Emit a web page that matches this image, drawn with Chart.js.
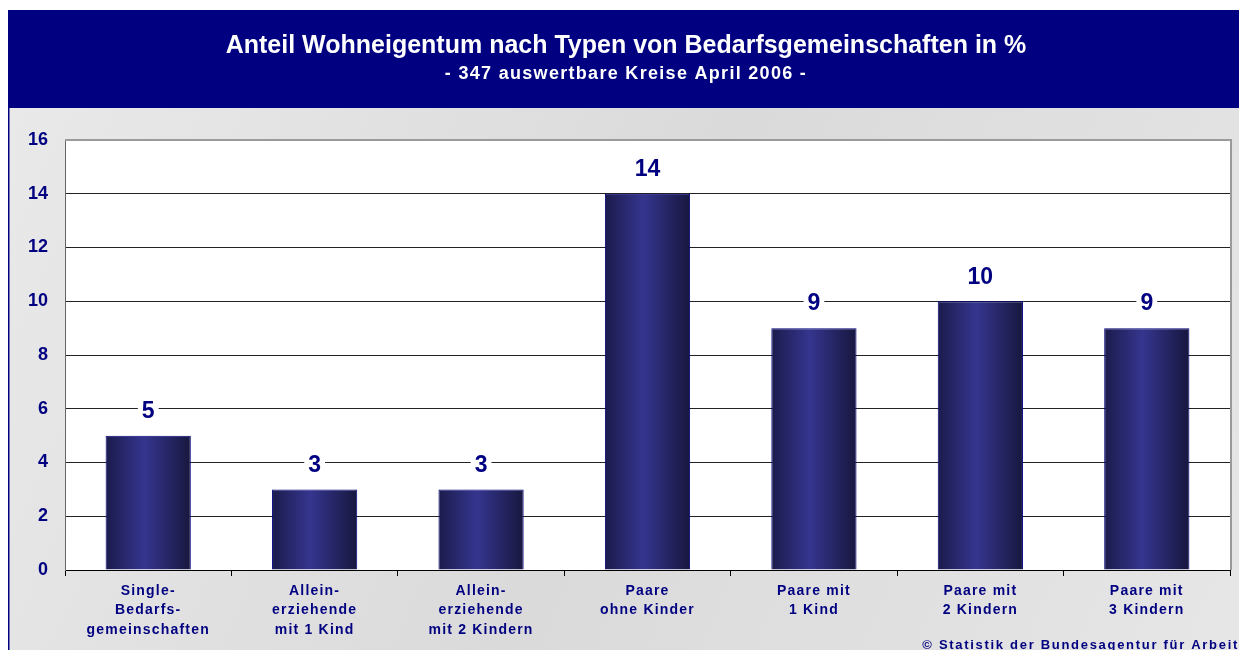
<!DOCTYPE html>
<html lang="de">
<head>
<meta charset="utf-8">
<title>Anteil Wohneigentum nach Typen von Bedarfsgemeinschaften</title>
<script src="https://cdn.jsdelivr.net/npm/chart.js@4/dist/chart.umd.min.js"></script>
<style>
  html, body { margin: 0; padding: 0; background: #fff; }
  #wrap { width: 1239px; height: 650px; position: relative; }
</style>
</head>
<body>
<div id="wrap"><canvas id="wohnChart"></canvas></div>
<script>
// Daten
const categories = [
  ["Single-", "Bedarfs-", "gemeinschaften"],
  ["Allein-", "erziehende", "mit 1 Kind"],
  ["Allein-", "erziehende", "mit 2 Kindern"],
  ["Paare", "ohne Kinder"],
  ["Paare mit", "1 Kind"],
  ["Paare mit", "2 Kindern"],
  ["Paare mit", "3 Kindern"],
];
const anteilWerte = [5, 3, 3, 14, 9, 10, 9];
const yTicks = [0, 2, 4, 6, 8, 10, 12, 14, 16];

const titleText = "Anteil Wohneigentum nach Typen von Bedarfsgemeinschaften in %";
const subtitleText = "- 347 auswertbare Kreise April 2006 -";
const sourceText = "\u00a9 Statistik der Bundesagentur f\u00fcr Arbeit";

const NAVY = "#000080";
const FONT = "'Liberation Sans', Arial, Helvetica, sans-serif";
const BAR_PCT = 0.64;
const CAT_PCT = 0.8;

// ✅ Balken-Verlauf (dunkle Kanten, hellere Mitte)
function barGradient(context) {
  const chart = context.chart;
  const xScale = chart.scales.x;
  if (!xScale || !chart.chartArea) return "#2a2a80";
  const cx = xScale.getPixelForValue(context.dataIndex);
  const half = (xScale.width / categories.length) * BAR_PCT * CAT_PCT / 2;
  const g = chart.ctx.createLinearGradient(cx - half, 0, cx + half, 0);
  g.addColorStop(0, "#1b1b4c");
  g.addColorStop(0.45, "#35358f");
  g.addColorStop(1, "#17173f");
  return g;
}

// ✅ Hintergrund, Titelbalken, Rahmen
const framePlugin = {
  id: "frame",
  beforeDraw(chart) {
    const { ctx, width, height, chartArea } = chart;
    ctx.save();
    ctx.fillStyle = "#fff";
    ctx.fillRect(0, 0, width, height);

    const bg = ctx.createLinearGradient(8, 108, width, height);
    bg.addColorStop(0, "#e9e9e9");
    bg.addColorStop(0.5, "#dadada");
    bg.addColorStop(1, "#e6e6e6");
    ctx.fillStyle = bg;
    ctx.fillRect(8, 108, width - 8, height - 108);

    ctx.fillStyle = NAVY;
    ctx.fillRect(8, 10, width - 8, 98);
    ctx.fillRect(8, 108, 1.5, height - 108);

    ctx.fillStyle = "#fff";
    ctx.fillRect(chartArea.left, chartArea.top, chartArea.right - chartArea.left, chartArea.bottom - chartArea.top);

    ctx.textAlign = "center";
    ctx.textBaseline = "middle";
    ctx.font = "bold 25px " + FONT;
    ctx.fillText(titleText, 626, 46);
    ctx.font = "bold 18px " + FONT;
    ctx.letterSpacing = "1.3px";
    ctx.fillText(subtitleText, 626, 74);
    ctx.restore();
  },
  afterDraw(chart) {
    const { ctx, chartArea } = chart;
    ctx.save();
    ctx.strokeStyle = "#9a9a9a";
    ctx.lineWidth = 2;
    ctx.beginPath();
    ctx.moveTo(chartArea.left, chartArea.top);
    ctx.lineTo(chartArea.right + 1, chartArea.top);
    ctx.lineTo(chartArea.right + 1, chartArea.bottom);
    ctx.stroke();

    ctx.fillStyle = NAVY;
    ctx.font = "bold 13px " + FONT;
    ctx.letterSpacing = "1.7px";
    ctx.textAlign = "right";
    ctx.textBaseline = "alphabetic";
    ctx.fillText(sourceText, 1239, 649);
    ctx.restore();
  },
};

// ✅ Werte über den Balken
const valueLabelPlugin = {
  id: "valueLabels",
  afterDatasetsDraw(chart) {
    const { ctx } = chart;
    const meta = chart.getDatasetMeta(0);
    ctx.save();
    ctx.font = "bold 23px " + FONT;
    ctx.textAlign = "center";
    ctx.textBaseline = "middle";
    meta.data.forEach((bar, i) => {
      const txt = String(anteilWerte[i]);
      const y = bar.y - 25;
      const w = ctx.measureText(txt).width + 8;
      ctx.fillStyle = "#fff";
      ctx.fillRect(bar.x - w / 2, y - 12, w, 24);
      ctx.fillStyle = NAVY;
      ctx.fillText(txt, bar.x, y + 1);
    });
    ctx.restore();
  },
};

// ✅ Sperrschrift für die Kategorien
const spacedLabelsPlugin = {
  id: "spacedLabels",
  afterLayout(chart) {
    const xs = chart.scales.x;
    if (xs._spaced) return;
    const orig = xs.drawLabels;
    xs.drawLabels = function (area) {
      this.ctx.save();
      this.ctx.letterSpacing = "1.2px";
      orig.call(this, area);
      this.ctx.restore();
    };
    xs._spaced = true;
  },
};

new Chart(document.getElementById("wohnChart"), {
  type: "bar",
  data: {
    labels: categories,
    datasets: [
      {
        data: anteilWerte,
        backgroundColor: barGradient,
        borderColor: NAVY,
        borderWidth: 1,
        barPercentage: BAR_PCT,
        categoryPercentage: CAT_PCT,
      },
    ],
  },
  options: {
    responsive: true,
    maintainAspectRatio: false,
    animation: false,
    layout: { padding: { top: 140, right: 9, bottom: 0, left: 0 } },
    plugins: {
      legend: { display: false },
      tooltip: { enabled: false },
      title: { display: false },
    },
    scales: {
      x: {
        grid: {
          offset: true,
          drawOnChartArea: false,
          drawTicks: true,
          tickLength: 6,
          color: "#000",
        },
        border: { color: "#000", width: 1 },
        ticks: {
          color: NAVY,
          padding: 5,
          maxRotation: 0,
          autoSkip: false,
          font: { family: FONT, size: 14, weight: "bold", lineHeight: 1.39 },
        },
        afterFit(scale) {
          scale.height = 80;
        },
      },
      y: {
        min: yTicks[0],
        max: yTicks[yTicks.length - 1],
        afterBuildTicks(scale) {
          scale.ticks = yTicks.map((v) => ({ value: v }));
        },
        grid: { color: "#222", lineWidth: 1, drawTicks: false },
        border: { color: "#666", width: 1 },
        ticks: {
          color: NAVY,
          padding: 17,
          font: { family: FONT, size: 18, weight: "bold" },
        },
        afterFit(scale) {
          scale.width = 65;
        },
      },
    },
  },
  plugins: [framePlugin, valueLabelPlugin, spacedLabelsPlugin],
});
</script>
</body>
</html>
